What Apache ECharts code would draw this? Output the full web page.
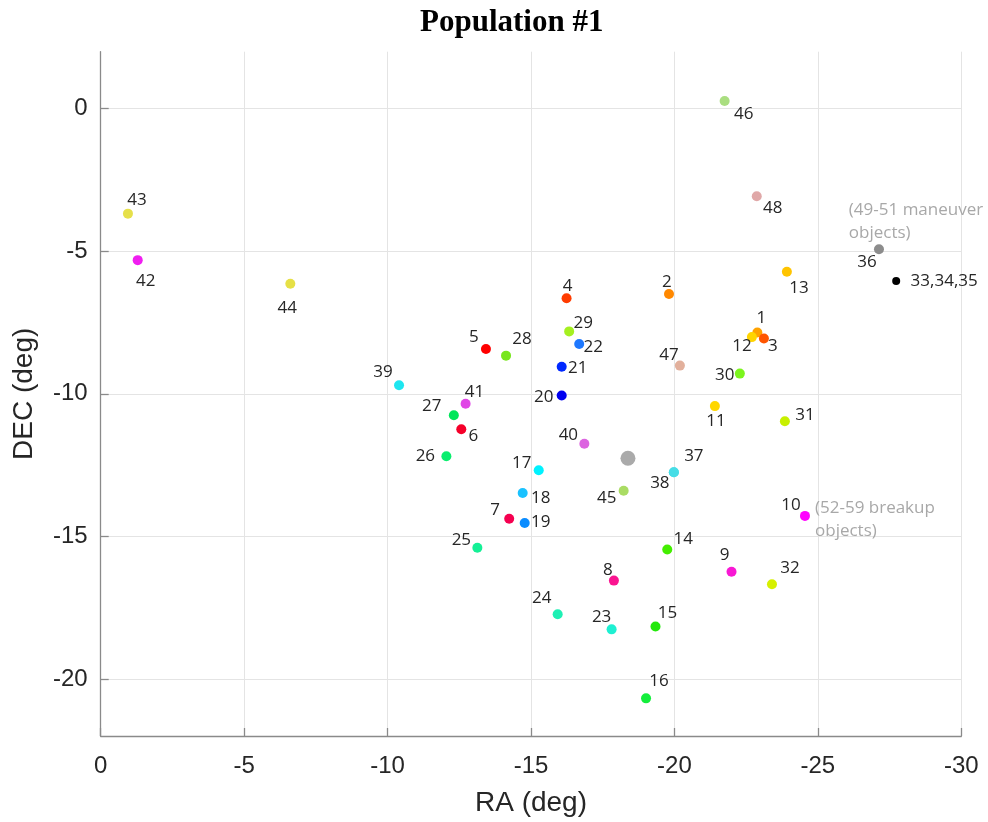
<!DOCTYPE html>
<html lang="en">
<head>
  <meta charset="UTF-8">
  <title>Population #1</title>
  <style>
    html, body { margin: 0; padding: 0; background: #fff; }
    #chart { width: 988px; height: 822px; }
  </style>
</head>
<body>
<div id="chart"></div>
<script src="https://cdn.jsdelivr.net/npm/echarts@6/dist/echarts.min.js"></script>
<script>
// object ids and their RA / DEC (deg)
var names = ['1', '2', '3', '4', '5', '6', '7', '8', '9', '10',
  '11', '12', '13', '14', '15', '16', '17', '18', '19', '20',
  '21', '22', '23', '24', '25', '26', '27', '28', '29', '30',
  '31', '32', '33,34,35', '36', '37', '38', '39', '40', '41', '42',
  '43', '44', '45', '46', '47', '48']
var ra = [-22.89, -19.81, -23.12, -16.24, -13.43, -12.57, -14.24, -17.89, -21.99, -24.55,
  -21.41, -22.70, -23.92, -19.75, -19.34, -19.01, -15.27, -14.71, -14.78, -16.07,
  -16.07, -16.68, -17.81, -15.93, -13.13, -12.05, -12.31, -14.13, -16.33, -22.28,
  -23.85, -23.40, -27.73, -27.13, -19.98, -19.98, -10.40, -16.86, -12.72, -1.29,
  -0.95, -6.61, -18.23, -21.75, -20.19, -22.87]
var dec = [-7.85, -6.50, -8.06, -6.65, -8.43, -11.24, -14.38, -16.55, -16.24, -14.28,
  -10.43, -8.01, -5.72, -15.46, -18.16, -20.68, -12.68, -13.48, -14.53, -10.06,
  -9.05, -8.25, -18.26, -17.73, -15.40, -12.19, -10.75, -8.66, -7.81, -9.29,
  -10.96, -16.68, -6.04, -4.93, -12.75, -12.75, -9.70, -11.75, -10.35, -5.31,
  -3.68, -6.14, -13.40, 0.27, -9.01, -3.07]

// breakup centre (big grey dot)
var breakupRa = [-18.38]
var breakupDec = [-12.26]

// grey notes
var noteText = ['(49-51 maneuver\nobjects)', '(52-59 breakup\nobjects)']
var noteRa = [-26.08, -24.90]
var noteDec = [-3.97, -14.40]

var yTicks = [-20, -15, -10, -5, 0]

// styling: colour and label offset per object
var colors = ['#ffa200', '#ff8800', '#ff5500', '#ff3c00', '#ff0000', '#f5002a', '#f50050', '#fa1490', '#f818d4', '#ff00ff',
  '#ffd700', '#ffd400', '#ffc400', '#44ee00', '#22e80a', '#14ee3c', '#00f2ff', '#1ac2ff', '#0a8cff', '#0000f0',
  '#0028ff', '#1e78ff', '#1ef0d2', '#1ef0b4', '#14f096', '#0aee6e', '#00e65a', '#78e61e', '#a5f020', '#7cf51e',
  '#c8f000', '#d6f000', '#000000', '#8c8c8c', '#46dde6', '#46dde6', '#1ee6f0', '#dc64e0', '#e046e6', '#f01ef0',
  '#e6e04a', '#e6e046', '#aadc64', '#aade80', '#e2b09c', '#e0a8a8']
var labelOffsets = [[4, -14], [-2, -12], [9, 8], [1, -12], [-12, -12], [12, 7], [-14, -9], [-6, -10], [-7, -17], [-14, -11],
  [1, 15], [-10, 9], [12, 16], [16, -10], [12, -13], [13, -17], [-17, -7], [18, 5], [16, -1], [-18, 2],
  [16, 1], [14, 3], [-10, -12], [-16, -16], [-16, -8], [-21, 0], [-22, -9], [16, -16], [14, -8], [-15, 2],
  [20, -6], [18, -16], [48, 0], [-12, 13], [20, -16], [-14, 11], [-16, -13], [-16, -9], [9, -12], [8, 21],
  [9, -13], [-3, 24], [-17, 7], [19, 13], [-11, -10], [16, 12]]

var axisColor = '#8a8a8a'
var textColor = '#262626'

var points = names.map(function (n, i) {
  return {
    name: n,
    value: [ra[i], dec[i]],
    symbolSize: n === '33,34,35' ? 8 : 10,
    itemStyle: { color: colors[i] },
    label: { offset: labelOffsets[i] }
  }
})

var notes = noteText.map(function (t, i) {
  return { name: t, value: [noteRa[i], noteDec[i]] }
})

var chart = echarts.init(document.getElementById('chart'))
chart.setOption({
  animation: false,
  title: {
    text: 'Population #1',
    left: 415,
    top: 2,
    textStyle: { fontFamily: 'Liberation Serif', fontWeight: 'bold', fontSize: 31, color: '#000' }
  },
  grid: { left: 100.7, right: 26.7, top: 51.7, bottom: 83.3, containLabel: false },
  xAxis: {
    type: 'value',
    inverse: true,
    min: -30,
    max: 0,
    interval: 5,
    name: 'RA (deg)',
    nameLocation: 'middle',
    nameGap: 53,
    nameTextStyle: { fontFamily: 'Liberation Sans', fontSize: 28, color: textColor },
    axisLine: { onZero: false, lineStyle: { color: axisColor, width: 1.3 } },
    axisTick: { inside: true, length: 8, lineStyle: { color: axisColor, width: 1.3 } },
    axisLabel: { fontFamily: 'Liberation Sans', fontSize: 24, color: textColor, margin: 18 },
    splitLine: { show: true, lineStyle: { color: '#e4e4e4', width: 1 } }
  },
  yAxis: {
    type: 'value',
    min: -22,
    max: 2,
    name: 'DEC (deg)',
    nameLocation: 'middle',
    nameGap: 62,
    nameTextStyle: { fontFamily: 'Liberation Sans', fontSize: 28, color: textColor },
    axisLine: { onZero: false, lineStyle: { color: axisColor, width: 1.3 } },
    axisTick: { inside: true, length: 8, customValues: yTicks, lineStyle: { color: axisColor, width: 1.3 } },
    axisLabel: { fontFamily: 'Liberation Sans', fontSize: 24, color: textColor, margin: 13, customValues: yTicks },
    splitLine: { show: true, lineStyle: { color: '#e4e4e4', width: 1 } }
  },
  series: [
    {
      type: 'scatter',
      data: breakupRa.map(function (r, i) { return [r, breakupDec[i]] }),
      symbolSize: 15,
      itemStyle: { color: '#aaaaaa', opacity: 1 },
      z: 2
    },
    {
      type: 'scatter',
      data: points,
      z: 3,
      itemStyle: { opacity: 1 },
      label: {
        show: true,
        position: 'inside',
        formatter: '{b}',
        fontFamily: 'Open Sans',
        fontSize: 17,
        color: textColor
      }
    },
    {
      type: 'scatter',
      data: notes,
      symbolSize: 0,
      silent: true,
      itemStyle: { opacity: 1 },
      label: {
        show: true,
        position: 'right',
        distance: 0,
        align: 'left',
        formatter: '{b}',
        fontFamily: 'Open Sans',
        fontSize: 17,
        lineHeight: 23,
        color: '#a8a8a8'
      }
    }
  ]
})
</script>
</body>
</html>
